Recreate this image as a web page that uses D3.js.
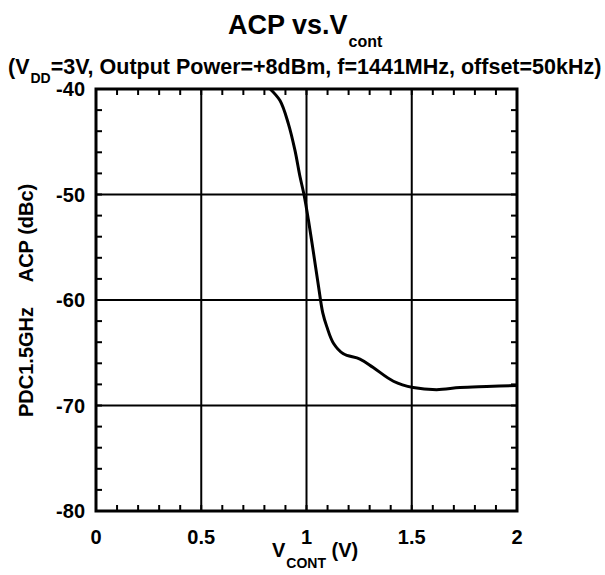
<!DOCTYPE html>
<html><head><meta charset="utf-8">
<script src="https://cdn.jsdelivr.net/npm/d3@7"></script>
<style>body{margin:0;background:#fff}svg{display:block}text{font-family:"Liberation Sans",Arial,sans-serif;font-weight:bold;fill:#000}</style>
</head><body>
<svg id="c" width="605" height="575"></svg>
<script>
const vcont = [0.827,0.874,0.914,0.945,0.969,0.988,1.009,1.033,1.057,1.077,1.096,1.128,1.175,1.254,1.317,1.413,1.507,1.618,1.729,1.856,2.0];
const acp   = [-40,-41.1,-43.3,-45.8,-48.3,-50,-52.4,-55.5,-58.7,-61.2,-62.5,-64.1,-65.1,-65.6,-66.4,-67.7,-68.3,-68.5,-68.3,-68.2,-68.1];
const xTicks = [0,0.5,1,1.5,2];
const xTickLabels = ["0","0.5","1","1.5","2"];
const yTicks = [-80,-70,-60,-50,-40];
const xMinor = d3.range(0,2.0001,0.1);
const yMinor = d3.range(-80,-39.999,2);

const svg = d3.select("#c");
const L=96,R=517,T=89,B=511;
const x = d3.scaleLinear().domain([0,2]).range([L,R]);
const y = d3.scaleLinear().domain([-80,-40]).range([B,T]);

// grid
svg.append("g").selectAll("line").data(xTicks.slice(1,-1)).join("line")
  .attr("x1",d=>x(d)).attr("x2",d=>x(d)).attr("y1",T).attr("y2",B)
  .attr("stroke","#000").attr("stroke-width",2);
svg.append("g").selectAll("line").data(yTicks.slice(1,-1)).join("line")
  .attr("y1",d=>y(d)).attr("y2",d=>y(d)).attr("x1",L).attr("x2",R)
  .attr("stroke","#000").attr("stroke-width",2);

// minor ticks inward on all sides
const tl=6;
const g=svg.append("g").attr("stroke","#000").attr("stroke-width",2);
xMinor.forEach(v=>{
  g.append("line").attr("x1",x(v)).attr("x2",x(v)).attr("y1",B).attr("y2",B-tl);
  g.append("line").attr("x1",x(v)).attr("x2",x(v)).attr("y1",T).attr("y2",T+tl);
});
yMinor.forEach(v=>{
  g.append("line").attr("y1",y(v)).attr("y2",y(v)).attr("x1",L).attr("x2",L+tl);
  g.append("line").attr("y1",y(v)).attr("y2",y(v)).attr("x1",R).attr("x2",R-tl);
});

// curve
svg.append("path").datum(vcont.map((v,i)=>[v,acp[i]]))
  .attr("fill","none").attr("stroke","#000").attr("stroke-width",3)
  .attr("stroke-linejoin","round")
  .attr("d",d3.line().x(d=>x(d[0])).y(d=>y(d[1])).curve(d3.curveCatmullRom));

// frame
svg.append("rect").attr("x",L).attr("y",T).attr("width",R-L).attr("height",B-T)
  .attr("fill","none").attr("stroke","#000").attr("stroke-width",3);

// tick labels
svg.append("g").selectAll("text").data(xTicks).join("text")
  .attr("x",d=>x(d)).attr("y",544).attr("text-anchor","middle")
  .attr("font-size",20).text((d,i)=>xTickLabels[i]);
svg.append("g").selectAll("text").data(yTicks).join("text")
  .attr("x",85).attr("y",d=>y(d)+7).attr("text-anchor","end")
  .attr("font-size",20).text(d=>d);

// title
const t=svg.append("text").attr("x",228).attr("y",34).attr("font-size",27);
t.append("tspan").text("ACP vs.V");
t.append("tspan").attr("font-size",16).attr("dy",13).attr("dx",1).text("cont");

const s=svg.append("text").attr("x",8).attr("y",74).attr("font-size",21.5);
s.append("tspan").text("(V");
s.append("tspan").attr("font-size",14).attr("dy",9).attr("dx",1).text("DD");
s.append("tspan").attr("dy",-9).text("=3V, Output Power=+8dBm, f=1441MHz, offset=50kHz)");

// x axis label
const xl=svg.append("text").attr("x",272).attr("y",557).attr("font-size",20);
xl.append("tspan").text("V");
xl.append("tspan").attr("font-size",14).attr("dy",11).attr("dx",1).text("CONT");
xl.append("tspan").attr("dy",-11).text(" (V)");

// y axis label (two parts)
svg.append("text").attr("transform","translate(33,233) rotate(-90)")
  .attr("text-anchor","middle").attr("font-size",20).text("ACP (dBc)");
svg.append("text").attr("transform","translate(33,362) rotate(-90)")
  .attr("text-anchor","middle").attr("font-size",20).text("PDC1.5GHz");
</script>
</body></html>
